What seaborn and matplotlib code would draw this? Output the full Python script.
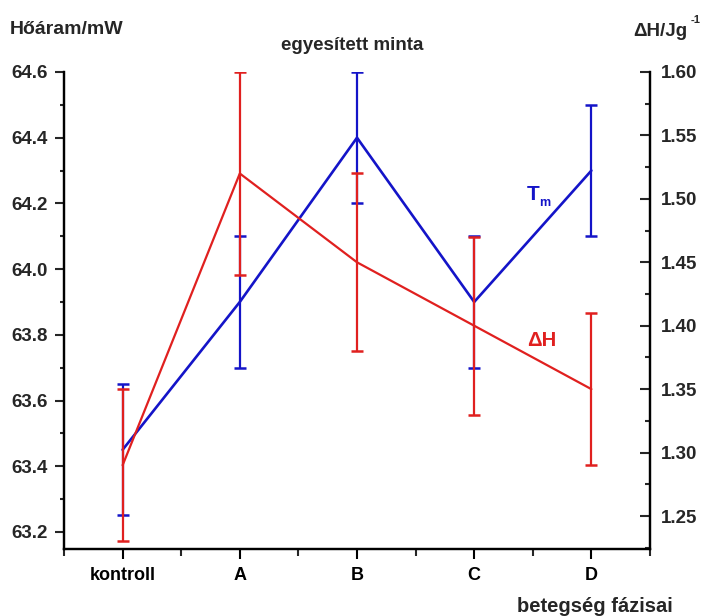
import numpy as np
import pandas as pd
import matplotlib
matplotlib.use("Agg")
import matplotlib.pyplot as plt
from matplotlib import font_manager
from matplotlib.ticker import MultipleLocator, FixedLocator
import seaborn as sns

# ---- data ----
categories = ["kontroll", "A", "B", "C", "D"]
tm = [63.45, 63.9, 64.4, 63.9, 64.3]
tm_err = [0.2, 0.2, 0.2, 0.2, 0.2]
dh = [1.29, 1.52, 1.45, 1.40, 1.35]
dh_err = [0.06, 0.08, 0.07, 0.07, 0.06]
left_ticks = [63.2, 63.4, 63.6, 63.8, 64.0, 64.2, 64.4, 64.6]
right_ticks = [1.25, 1.30, 1.35, 1.40, 1.45, 1.50, 1.55, 1.60]

sns.set_theme(style="white")
names = {f.name for f in font_manager.fontManager.ttflist}
fam = [n for n in ["Liberation Sans Narrow", "Liberation Sans", "DejaVu Sans"] if n in names]
plt.rcParams["font.family"] = fam
plt.rcParams["font.weight"] = "bold"

BLUE = "#1414c8"
RED = "#e0201f"

df = pd.DataFrame({"x": np.arange(len(categories)), "cat": categories,
                   "tm": tm, "tm_err": tm_err, "dh": dh, "dh_err": dh_err})

fig = plt.figure(figsize=(7.02, 6.16), dpi=100)
ax = fig.add_axes([64 / 702, 1 - 549 / 616, (650 - 64) / 702, (549 - 72) / 616])
ax2 = ax.twinx()

sns.lineplot(data=df, x="x", y="tm", ax=ax, color=BLUE, lw=1.9, legend=False)
ax.errorbar(df["x"], df["tm"], yerr=df["tm_err"], fmt="none", ecolor=BLUE,
            elinewidth=1.6, capsize=4.5, capthick=1.8)
sns.lineplot(data=df, x="x", y="dh", ax=ax2, color=RED, lw=1.6, legend=False)
ax2.errorbar(df["x"], df["dh"], yerr=df["dh_err"], fmt="none", ecolor=RED,
             elinewidth=1.6, capsize=4.5, capthick=1.8)

ax.set_xlim(-0.5, 4.5)
ax.set_ylim(63.148, 64.6)
ax2.set_ylim(1.224, 1.60)

ax.set_xticks(df["x"])
ax.set_xticklabels(categories)
ax.xaxis.set_minor_locator(FixedLocator([-0.5, 0.5, 1.5, 2.5, 3.5, 4.5]))
ax.set_yticks(left_ticks)
ax.set_yticklabels([f"{v:.1f}" for v in left_ticks])
ax.yaxis.set_minor_locator(MultipleLocator(0.1))
ax2.set_yticks(right_ticks)
ax2.set_yticklabels([f"{v:.2f}" for v in right_ticks])
ax2.yaxis.set_minor_locator(MultipleLocator(0.025))

ax.set_xlabel("")
ax.set_ylabel("")
ax2.set_ylabel("")

for a in (ax, ax2):
    for s in a.spines.values():
        s.set_linewidth(1.6)
        s.set_color("black")
    a.spines["top"].set_visible(False)
    a.grid(False)

ax.tick_params(axis="x", which="major", direction="out", length=7, width=1.5,
               pad=6, labelsize=13, colors="black", bottom=True)
ax.tick_params(axis="x", which="minor", direction="out", length=5, width=1.5,
               bottom=True)
ax.tick_params(axis="y", which="major", direction="out", length=6.5, width=1.5,
               pad=5, labelsize=13.5, left=True)
ax.tick_params(axis="y", which="minor", direction="out", length=3, width=1.5,
               left=True)
ax2.tick_params(axis="y", which="major", direction="in", length=7, width=1.5,
                pad=8, labelsize=13.5, right=True)
ax2.tick_params(axis="y", which="minor", direction="in", length=3.5, width=1.5,
                right=True)
for lab in ax.get_xticklabels() + ax.get_yticklabels() + ax2.get_yticklabels():
    lab.set_fontweight("bold")

# texts
fig.text(10 / 702, 1 - 30 / 616, "Hőáram/mW", fontsize=14, fontweight="bold",
         ha="left", va="center")
fig.text(352 / 702, 1 - 45 / 616, "egyesített minta", fontsize=13.5,
         fontweight="bold", ha="center", va="center")
fig.text(633 / 702, 1 - 31 / 616, "ΔH/Jg", fontsize=13.5, fontweight="bold",
         ha="left", va="center")
fig.text(691 / 702, 1 - 20 / 616, "-1", fontsize=8, fontweight="bold",
         ha="left", va="center")
fig.text(673 / 702, 1 - 606 / 616, "betegség fázisai", fontsize=14.5,
         fontweight="bold", ha="right", va="center")
fig.text(527 / 702, 1 - 194 / 616, "T", fontsize=15, fontweight="bold",
         color=BLUE, ha="left", va="center")
fig.text(539 / 702, 1 - 203 / 616, "m", fontsize=9, fontweight="bold",
         color=BLUE, ha="left", va="center")
fig.text(527 / 702, 1 - 341 / 616, "ΔH", fontsize=14.5, fontweight="bold",
         color=RED, ha="left", va="center")

fig.savefig("out.png", dpi=100, facecolor="white")
